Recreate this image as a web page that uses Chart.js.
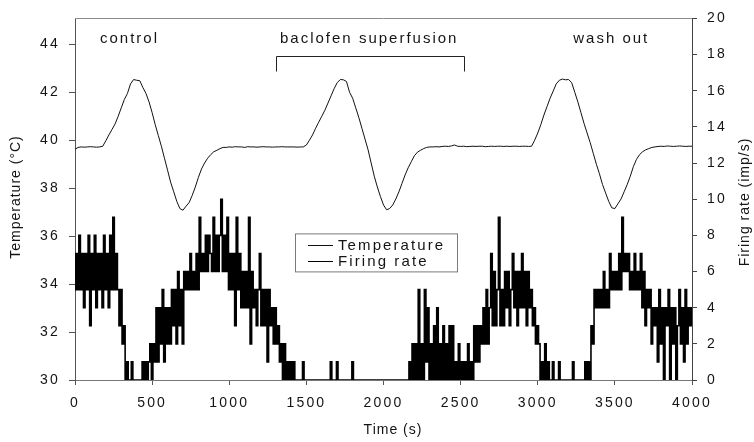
<!DOCTYPE html>
<html>
<head>
<meta charset="utf-8">
<script src="https://cdn.jsdelivr.net/npm/chart.js@4.4.1/dist/chart.umd.min.js"></script>
<style>
  html, body { margin: 0; padding: 0; background: #fff; }
  #wrap { width: 754px; height: 442px; }
</style>
</head>
<body>
<div id="wrap"><canvas id="chart" width="754" height="442"></canvas></div>
<script>
// Sampling intervals (s)
const TEMP_STEP = 20;
const FIRING_STEP = 10;

// Brain temperature (°C), one sample every 20 s from 0 to 4000 s
const temperature = [
  39.62, 39.70, 39.72, 39.71, 39.72, 39.73, 39.72, 39.71, 39.72, 39.75,
  39.98, 40.22, 40.45, 40.68, 41.00, 41.35, 41.70, 41.95, 42.35, 42.53,
  42.50, 42.48, 42.20, 41.95, 41.60, 41.15, 40.65, 40.20, 39.75, 39.25,
  38.75, 38.25, 37.85, 37.45, 37.15, 37.08, 37.25, 37.40, 37.70, 38.05,
  38.45, 38.80, 39.05, 39.25, 39.40, 39.52, 39.58, 39.65, 39.70, 39.70,
  39.72, 39.71, 39.73, 39.72, 39.72, 39.70, 39.73, 39.72, 39.72, 39.71,
  39.72, 39.73, 39.72, 39.72, 39.71, 39.72, 39.72, 39.73, 39.72, 39.72,
  39.72, 39.72, 39.71, 39.72, 39.72, 39.80, 40.00, 40.22, 40.50, 40.75,
  41.00, 41.25, 41.55, 41.85, 42.15, 42.40, 42.53, 42.52, 42.45, 42.00,
  41.75, 41.35, 40.95, 40.50, 40.05, 39.60, 39.05, 38.50, 38.05, 37.65,
  37.30, 37.10, 37.15, 37.30, 37.55, 37.85, 38.20, 38.55, 38.85, 39.10,
  39.35, 39.50, 39.58, 39.65, 39.70, 39.72, 39.72, 39.73, 39.72, 39.74,
  39.75, 39.74, 39.76, 39.80, 39.75, 39.74, 39.75, 39.73, 39.74, 39.75,
  39.74, 39.75, 39.75, 39.73, 39.74, 39.75, 39.74, 39.75, 39.75, 39.74,
  39.75, 39.74, 39.75, 39.75, 39.74, 39.75, 39.75, 39.74, 39.75, 40.00,
  40.30, 40.65, 41.05, 41.40, 41.75, 42.05, 42.35, 42.50, 42.55, 42.52,
  42.53, 42.40, 42.00, 41.60, 41.15, 40.70, 40.30, 39.90, 39.45, 39.00,
  38.60, 38.15, 37.80, 37.45, 37.18, 37.15, 37.35, 37.55, 37.85, 38.15,
  38.50, 38.90, 39.20, 39.40, 39.52, 39.60, 39.65, 39.70, 39.72, 39.74,
  39.75, 39.74, 39.76, 39.75, 39.74, 39.75, 39.76, 39.75, 39.74, 39.75,
  39.75
];

// Firing rate (imp/s), one sample every 10 s from 0 to 4000 s
const firingRate = [
  5,7,5,8,5,7,4,7,5,8,3,7,5,8,4,7,5,7,4,8,
  5,7,4,8,5,9,5,7,5,3,5,2,3,0,1,0,0,1,0,0,
  0,0,0,0,1,0,1,0,1,2,0,2,1,4,1,4,2,5,1,4,
  2,4,2,5,3,5,2,6,3,5,2,6,5,6,5,7,5,6,5,7,
  5,9,6,7,6,8,6,8,7,6,9,6,8,6,8,10,6,8,6,9,
  5,7,5,7,3,9,5,7,4,6,4,6,4,9,2,6,4,5,3,5,
  7,3,5,3,5,1,5,3,4,2,4,2,3,1,2,0,2,0,1,0,
  1,0,1,0,0,0,0,0,1,0,0,0,0,0,0,0,0,0,0,0,
  0,0,0,0,0,0,1,0,0,0,1,0,0,0,0,0,0,0,0,0,
  1,0,0,0,0,0,0,0,0,0,0,0,0,0,0,0,0,0,0,0,
  0,0,0,0,0,0,0,0,0,0,0,0,0,0,0,0,0,1,0,2,
  0,2,0,5,0,2,0,5,1,4,0,2,0,3,0,4,0,2,0,3,
  0,2,0,3,0,3,0,1,0,2,0,1,0,1,0,2,0,1,0,3,
  1,3,1,3,2,4,2,5,2,4,7,3,6,3,5,9,3,5,3,6,
  4,6,3,5,7,4,6,3,6,4,7,4,6,3,6,4,5,3,4,2,
  3,2,0,1,0,2,0,1,0,0,1,0,0,0,1,0,0,0,0,0,
  0,0,0,1,0,0,0,0,0,0,0,1,0,1,0,3,2,5,4,5,
  4,5,4,6,4,5,4,7,5,6,5,6,5,7,5,9,6,7,6,7,
  5,6,5,7,5,6,5,7,4,6,3,5,4,5,2,4,3,4,1,5,
  2,4,0,4,3,5,0,4,2,4,0,3,5,2,4,1,5,2,4,3,
  4
];

// Axis tick values
const timeTicks = [0, 500, 1000, 1500, 2000, 2500, 3000, 3500, 4000];
const tempTicks = [30, 32, 34, 36, 38, 40, 42, 44];
const rateTicks = [0, 2, 4, 6, 8, 10, 12, 14, 16, 18, 20];

// Experimental phases
const phaseLabels = ['control', 'baclofen superfusion', 'wash out'];
const phaseLabelTime = [162, 1329, 3230];     // s, left edge of each label
const superfusionPeriod = [1300, 2520];       // s, drug applied

const FONT_FAMILY = "'Liberation Sans', Arial, Helvetica, sans-serif";
const TEXT_COLOR = '#141414';

Chart.defaults.font.family = FONT_FAMILY;
Chart.defaults.font.size = 14;
Chart.defaults.color = TEXT_COLOR;

const tempPoints = temperature.map((v, i) => ({ x: i * TEMP_STEP, y: v }));
const ratePoints = firingRate.map((v, i) => ({ x: i * FIRING_STEP, y: v }));

function setSpacing(ctx, px) {
  if ('letterSpacing' in ctx) ctx.letterSpacing = px + 'px';
}

const plainNumber = v => String(v);

// Wide-tracked tick labels, plus titles, phase labels, bracket, frame and legend
const decorations = {
  id: 'decorations',
  beforeLayout(chart) { setSpacing(chart.ctx, 2.2); },
  beforeDraw(chart) { setSpacing(chart.ctx, 2.2); },
  afterDraw(chart) {
    const ctx = chart.ctx;
    const area = chart.chartArea;
    const xs = chart.scales.x;
    const ys = chart.scales.y;
    ctx.save();

    // top frame line
    ctx.strokeStyle = '#8c8c8c';
    ctx.lineWidth = 1;
    ctx.beginPath();
    ctx.moveTo(area.left, Math.round(area.top) + 0.5);
    ctx.lineTo(area.right, Math.round(area.top) + 0.5);
    ctx.stroke();

    // phase labels
    ctx.fillStyle = TEXT_COLOR;
    ctx.font = '15px ' + FONT_FAMILY;
    ctx.textAlign = 'left';
    ctx.textBaseline = 'alphabetic';
    setSpacing(ctx, 2);
    const labelY = ys.getPixelForValue(44.04);
    phaseLabels.forEach((t, i) => {
      ctx.fillText(t, xs.getPixelForValue(phaseLabelTime[i]), labelY);
    });

    // superfusion bracket
    const bx1 = Math.round(xs.getPixelForValue(superfusionPeriod[0])) + 0.5;
    const bx2 = Math.round(xs.getPixelForValue(superfusionPeriod[1])) + 0.5;
    const byTop = Math.round(ys.getPixelForValue(43.5)) + 0.5;
    const byBot = Math.round(ys.getPixelForValue(42.9)) + 0.5;
    ctx.strokeStyle = '#222';
    ctx.beginPath();
    ctx.moveTo(bx1, byBot);
    ctx.lineTo(bx1, byTop);
    ctx.lineTo(bx2, byTop);
    ctx.lineTo(bx2, byBot);
    ctx.stroke();

    // axis titles
    ctx.font = '14px ' + FONT_FAMILY;
    setSpacing(ctx, 1);
    ctx.textAlign = 'center';
    ctx.textBaseline = 'middle';
    ctx.fillText('Time (s)', 393, 430);
    ctx.save();
    ctx.translate(16, 197);
    ctx.rotate(-Math.PI / 2);
    ctx.fillText('Temperature (\u00B0C)', 0, 0);
    ctx.restore();
    ctx.save();
    ctx.translate(745, 202);
    ctx.rotate(-Math.PI / 2);
    ctx.fillText('Firing rate (imp/s)', 0, 0);
    ctx.restore();

    // legend
    const lx = area.left + 220.5;
    const ly = area.top + 215.5;
    ctx.fillStyle = '#fff';
    ctx.fillRect(lx, ly, 162, 38);
    ctx.strokeStyle = '#7a7a7a';
    ctx.strokeRect(lx, ly, 162, 38);
    ctx.font = '15px ' + FONT_FAMILY;
    setSpacing(ctx, 2.1);
    ctx.textAlign = 'left';
    ctx.textBaseline = 'alphabetic';
    chart.data.datasets.forEach((ds, i) => {
      const rowY = ly + 11 + i * 16;
      ctx.strokeStyle = ds.borderColor;
      ctx.lineWidth = 1;
      ctx.beginPath();
      ctx.moveTo(lx + 12.5, Math.round(rowY) + 0.5);
      ctx.lineTo(lx + 37.5, Math.round(rowY) + 0.5);
      ctx.stroke();
      ctx.fillStyle = TEXT_COLOR;
      ctx.fillText(ds.label, lx + 42.5, rowY + 5);
    });

    ctx.restore();
  }
};

new Chart(document.getElementById('chart'), {
  type: 'line',
  data: {
    datasets: [
      {
        label: 'Temperature',
        data: tempPoints,
        yAxisID: 'y',
        borderColor: '#111',
        borderWidth: 1,
        pointRadius: 0,
        tension: 0
      },
      {
        label: 'Firing rate',
        data: ratePoints,
        yAxisID: 'y1',
        borderColor: '#000',
        borderWidth: 1.6,
        pointRadius: 0,
        stepped: 'middle'
      }
    ]
  },
  options: {
    responsive: false,
    devicePixelRatio: 1,
    animation: false,
    events: [],
    layout: { padding: { top: 18, left: 0, right: 0, bottom: 0 } },
    plugins: {
      legend: { display: false },
      tooltip: { enabled: false }
    },
    scales: {
      x: {
        type: 'linear',
        min: 0,
        max: 4000,
        afterBuildTicks: s => { s.ticks = timeTicks.map(v => ({ value: v })); },
        afterFit: s => { s.height = 62; },
        ticks: { padding: 10, maxRotation: 0, autoSkip: false, color: TEXT_COLOR, callback: plainNumber },
        grid: { drawOnChartArea: false, drawTicks: true, tickLength: 5, color: '#555' },
        border: { color: '#777', width: 1 }
      },
      y: {
        position: 'left',
        min: 30,
        max: 45.08,
        afterBuildTicks: s => { s.ticks = tempTicks.map(v => ({ value: v })); },
        afterFit: s => { s.width = 75; },
        ticks: { padding: 9, color: TEXT_COLOR, callback: plainNumber },
        grid: { drawOnChartArea: false, drawTicks: true, tickLength: 6, color: '#555' },
        border: { color: '#555', width: 1 }
      },
      y1: {
        position: 'right',
        min: 0,
        max: 20,
        afterBuildTicks: s => { s.ticks = rateTicks.map(v => ({ value: v })); },
        afterFit: s => { s.width = 62; },
        ticks: { padding: 10, color: TEXT_COLOR, callback: plainNumber },
        grid: { drawOnChartArea: false, drawTicks: true, tickLength: 5, color: '#444' },
        border: { color: '#444', width: 1 }
      }
    }
  },
  plugins: [decorations]
});
</script>
</body>
</html>
